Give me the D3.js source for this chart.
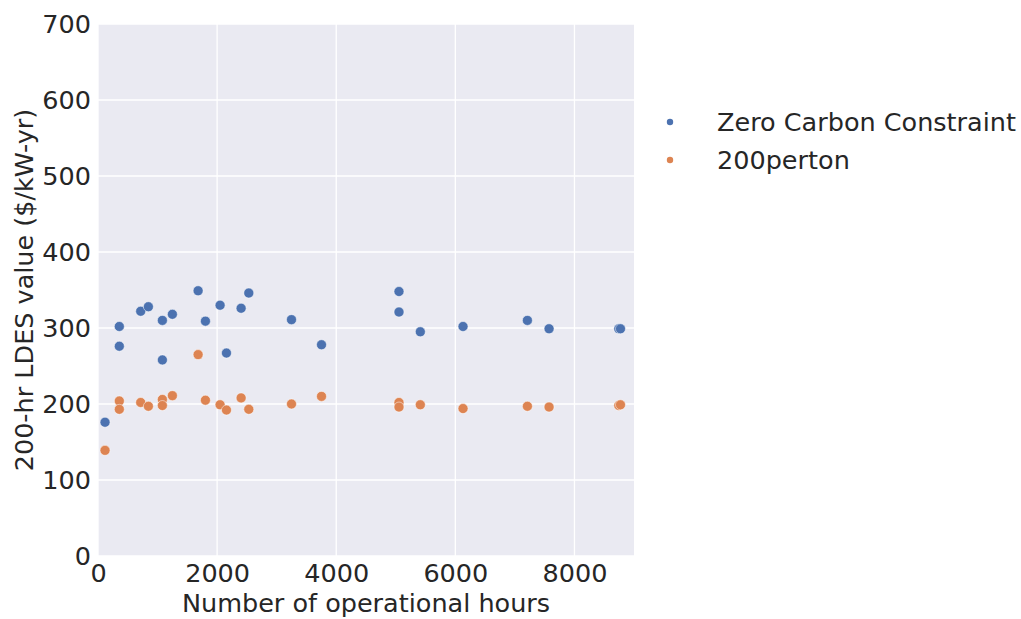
<!DOCTYPE html>
<html>
<head>
<meta charset="utf-8">
<script src="https://cdn.jsdelivr.net/npm/d3@7"></script>
<style>
  html, body { margin: 0; padding: 0; background: #ffffff; }
  svg { display: block; font-family: "DejaVu Sans", sans-serif; }
</style>
</head>
<body>
<svg id="chart" width="1021" height="619"></svg>
<script>
// Operational hours for each scenario run
const hours = [118, 358, 358, 717, 846, 1081, 1081, 1249, 1681, 1804, 2050, 2157,
               2403, 2532, 3249, 3753, 5054, 5054, 5412, 6129, 7210, 7574, 8745, 8773];

// 200-hr LDES value ($/kW-yr) per run
const zeroCarbon = [176, 302, 276, 322, 328, 310, 258, 318, 349, 309, 330, 267,
                    326, 346, 311, 278, 348, 321, 295, 302, 310, 299, 299, 299];
const perTon200 = [139, 204, 193, 202, 197, 206, 198, 211, 265, 205, 199, 192,
                   208, 193, 200, 210, 202, 196, 199, 194, 197, 196, 198, 199];

const seriesNames = ["Zero Carbon Constraint", "200perton"];
const seriesColors = ["#4C72B0", "#DD8452"];

const xTicks = [0, 2000, 4000, 6000, 8000];
const yTicks = [0, 100, 200, 300, 400, 500, 600, 700];

const svg = d3.select("#chart");
const margin = { left: 98, top: 24, right: 634, bottom: 556 };

const x = d3.scaleLinear().domain([0, 9000]).range([margin.left, margin.right]);
const y = d3.scaleLinear().domain([0, 700]).range([margin.bottom, margin.top]);

// Plot background
svg.append("rect")
  .attr("x", margin.left).attr("y", margin.top)
  .attr("width", margin.right - margin.left)
  .attr("height", margin.bottom - margin.top)
  .attr("fill", "#EAEAF2");

// Grid lines
svg.append("g").selectAll("line").data(xTicks).join("line")
  .attr("x1", d => x(d)).attr("x2", d => x(d))
  .attr("y1", margin.top).attr("y2", margin.bottom)
  .attr("stroke", "#ffffff").attr("stroke-width", 1.3);
svg.append("g").selectAll("line").data(yTicks).join("line")
  .attr("x1", margin.left).attr("x2", margin.right)
  .attr("y1", d => y(d)).attr("y2", d => y(d))
  .attr("stroke", "#ffffff").attr("stroke-width", 1.3);

// Axes (labels only, no domain or tick marks)
const xAxis = svg.append("g")
  .attr("transform", `translate(0,${margin.bottom})`)
  .call(d3.axisBottom(x).tickValues(xTicks).tickFormat(d3.format("d")).tickSize(0).tickPadding(8));
const yAxis = svg.append("g")
  .attr("transform", `translate(${margin.left},0)`)
  .call(d3.axisLeft(y).tickValues(yTicks).tickFormat(d3.format("d")).tickSize(0).tickPadding(7));
[xAxis, yAxis].forEach(g => {
  g.select(".domain").remove();
  g.selectAll("text")
    .attr("fill", "#262626")
    .style("font-size", "25.5px")
    .style("font-family", "DejaVu Sans, sans-serif");
});

// Axis titles
svg.append("text")
  .attr("x", (margin.left + margin.right) / 2)
  .attr("y", 612)
  .attr("text-anchor", "middle")
  .attr("fill", "#262626")
  .style("font-size", "25.5px")
  .text("Number of operational hours");
svg.append("text")
  .attr("transform", `translate(33,${(margin.top + margin.bottom) / 2}) rotate(-90)`)
  .attr("text-anchor", "middle")
  .attr("fill", "#262626")
  .style("font-size", "25.5px")
  .text("200-hr LDES value ($/kW-yr)");

// Scatter points
const series = [zeroCarbon, perTon200];
series.forEach((vals, i) => {
  svg.append("g").selectAll("circle")
    .data(hours.map((h, j) => ({ h, v: vals[j] })))
    .join("circle")
    .attr("cx", d => x(d.h))
    .attr("cy", d => y(d.v))
    .attr("r", 5)
    .attr("fill", seriesColors[i])
    .attr("stroke", "#ffffff")
    .attr("stroke-width", 0.5);
});

// Legend
const legend = svg.append("g");
seriesNames.forEach((name, i) => {
  const cy = 122 + i * 38;
  legend.append("circle")
    .attr("cx", 670).attr("cy", cy).attr("r", 3.2)
    .attr("fill", seriesColors[i]);
  legend.append("text")
    .attr("x", 717).attr("y", cy + 9)
    .attr("fill", "#262626")
    .style("font-size", "25.5px")
    .text(name);
});
</script>
</body>
</html>
